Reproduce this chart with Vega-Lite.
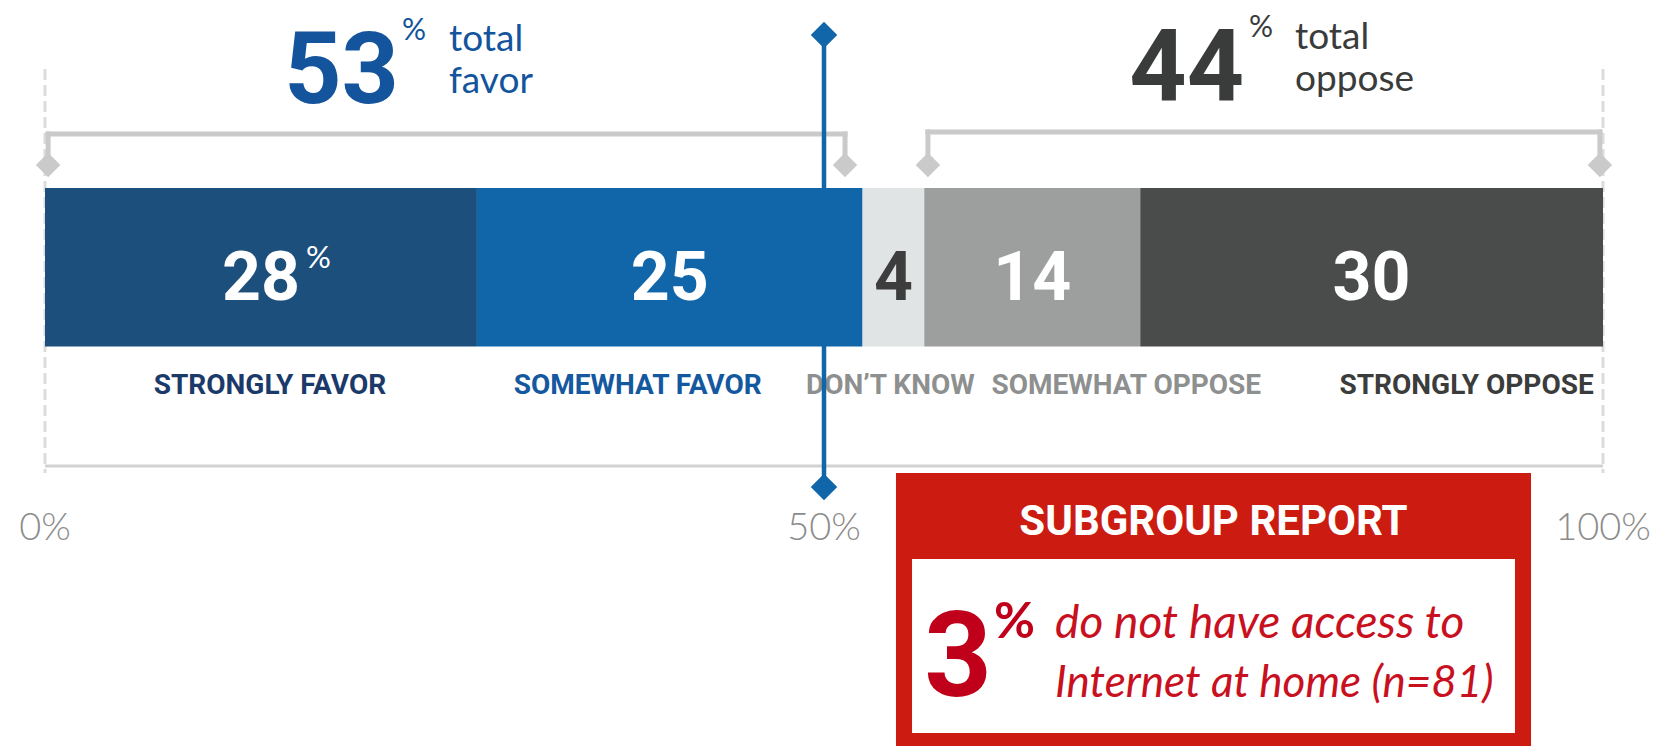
{
  "$schema": "https://vega.github.io/schema/vega-lite/v6.json",
  "width": 1667,
  "height": 746,
  "autosize": {"type": "fit", "contains": "padding"},
  "padding": 0,
  "background": "white",
  "config": {"view": {"stroke": null}, "axis": {"disable": true}},
  "datasets": {
    "responses": [
      {"response": "Strongly favor", "label": "STRONGLY FAVOR", "pct": 28, "order": 1},
      {"response": "Somewhat favor", "label": "SOMEWHAT FAVOR", "pct": 25, "order": 2},
      {"response": "Don't know", "label": "DON’T KNOW", "pct": 4, "order": 3},
      {"response": "Somewhat oppose", "label": "SOMEWHAT OPPOSE", "pct": 14, "order": 4},
      {"response": "Strongly oppose", "label": "STRONGLY OPPOSE", "pct": 30, "order": 5}
    ],
    "totals": [
      {"side": "favor", "total": 53, "line1": "total", "line2": "favor"},
      {"side": "oppose", "total": 44, "line1": "total", "line2": "oppose"}
    ],
    "ticks": [{"p": 0}, {"p": 0.5}, {"p": 1}],
    "subgroup": [
      {"title": "SUBGROUP REPORT", "pct": 3, "line1": "do not have access to", "line2": "Internet at home (n=81)"}
    ],
    "one": [{}]
  },
  "layer": [
    {
      "data": {"name": "ticks"},
      "transform": [{"filter": "datum.p !== 0.5"}],
      "mark": {"type": "rule", "color": "#dcdcdc", "strokeWidth": 3, "strokeDash": [11, 5]},
      "encoding": {
        "x": {"field": "p", "type": "quantitative", "scale": {"domain": [-0.028883, 1.041078], "nice": false, "zero": false}, "axis": null},
        "y": {"datum": 69, "type": "quantitative", "scale": {"domain": [0, 746], "reverse": true, "nice": false, "zero": false}, "axis": null},
        "y2": {"datum": 473}
      }
    },
    {
      "data": {"name": "one"},
      "mark": {"type": "rule", "color": "#d2d2d2", "strokeWidth": 3},
      "encoding": {
        "x": {"datum": 0, "type": "quantitative", "axis": null},
        "x2": {"datum": 1},
        "y": {"datum": 466, "type": "quantitative"}
      }
    },
    {
      "data": {"name": "ticks"},
      "mark": {"type": "text", "font": "Lato", "fontWeight": 300, "fontSize": 38, "baseline": "alphabetic", "align": "center", "color": "#8c8c8c"},
      "encoding": {
        "x": {"field": "p", "type": "quantitative", "axis": null},
        "y": {"datum": 540, "type": "quantitative"},
        "text": {"field": "p", "type": "quantitative", "format": ".0%"}
      }
    },
    {
      "data": {"name": "responses"},
      "transform": [
        {"stack": "pct", "groupby": [], "sort": [{"field": "order"}], "offset": "normalize", "as": ["x0", "x1"]}
      ],
      "mark": {"type": "bar"},
      "encoding": {
        "x": {"field": "x0", "type": "quantitative", "axis": null},
        "x2": {"field": "x1"},
        "y": {"datum": 188, "type": "quantitative"},
        "y2": {"datum": 346.6},
        "color": {"field": "response", "type": "nominal", "legend": null,
          "scale": {"domain": ["Strongly favor", "Somewhat favor", "Don't know", "Somewhat oppose", "Strongly oppose"],
                    "range": ["#1d4f7d", "#1066a8", "#e1e4e4", "#9d9e9e", "#4a4b4b"]}}
      }
    },
    {
      "data": {"name": "responses"},
      "transform": [
        {"stack": "pct", "groupby": [], "sort": [{"field": "order"}], "offset": "normalize", "as": ["x0", "x1"]},
        {"calculate": "(datum.x0 + datum.x1) / 2", "as": "mid"}
      ],
      "mark": {"type": "text", "font": "Roboto", "fontWeight": "bold", "fontSize": 68, "baseline": "alphabetic", "align": "center"},
      "encoding": {
        "x": {"field": "mid", "type": "quantitative", "axis": null},
        "y": {"datum": 300, "type": "quantitative"},
        "text": {"field": "pct", "type": "quantitative"},
        "color": {"condition": {"test": "datum.response === \"Don't know\"", "value": "#3d3d3d"}, "value": "#ffffff"}
      }
    },
    {
      "data": {"name": "responses"},
      "transform": [
        {"stack": "pct", "groupby": [], "sort": [{"field": "order"}], "offset": "normalize", "as": ["x0", "x1"]},
        {"calculate": "(datum.x0 + datum.x1) / 2", "as": "mid"},
        {"filter": "datum.order === 1"}
      ],
      "mark": {"type": "text", "text": "%", "font": "Lato", "fontSize": 31, "baseline": "alphabetic", "align": "left", "color": "#ffffff", "dx": 45},
      "encoding": {
        "x": {"field": "mid", "type": "quantitative", "axis": null},
        "y": {"datum": 268, "type": "quantitative"}
      }
    },
    {
      "data": {"name": "responses"},
      "transform": [
        {"stack": "pct", "groupby": [], "sort": [{"field": "order"}], "offset": "normalize", "as": ["x0", "x1"]},
        {"calculate": "(datum.x0 + datum.x1) / 2", "as": "mid"},
        {"filter": "datum.order === 1"}
      ],
      "mark": {"type": "text", "font": "Roboto", "fontWeight": "bold", "fontSize": 28, "baseline": "alphabetic", "align": "center", "color": "#1b3a6a", "dx": 9},
      "encoding": {"x": {"field": "mid", "type": "quantitative", "axis": null}, "y": {"datum": 394, "type": "quantitative"}, "text": {"field": "label"}}
    },
    {
      "data": {"name": "responses"},
      "transform": [
        {"stack": "pct", "groupby": [], "sort": [{"field": "order"}], "offset": "normalize", "as": ["x0", "x1"]},
        {"calculate": "(datum.x0 + datum.x1) / 2", "as": "mid"},
        {"filter": "datum.order === 2"}
      ],
      "mark": {"type": "text", "font": "Roboto", "fontWeight": "bold", "fontSize": 28, "baseline": "alphabetic", "align": "center", "color": "#1458a0", "dx": -32},
      "encoding": {"x": {"field": "mid", "type": "quantitative", "axis": null}, "y": {"datum": 394, "type": "quantitative"}, "text": {"field": "label"}}
    },
    {
      "data": {"name": "responses"},
      "transform": [
        {"stack": "pct", "groupby": [], "sort": [{"field": "order"}], "offset": "normalize", "as": ["x0", "x1"]},
        {"calculate": "(datum.x0 + datum.x1) / 2", "as": "mid"},
        {"filter": "datum.order === 3"}
      ],
      "mark": {"type": "text", "font": "Roboto", "fontWeight": "bold", "fontSize": 28, "baseline": "alphabetic", "align": "center", "color": "#8e9090", "dx": -3},
      "encoding": {"x": {"field": "mid", "type": "quantitative", "axis": null}, "y": {"datum": 394, "type": "quantitative"}, "text": {"field": "label"}}
    },
    {
      "data": {"name": "responses"},
      "transform": [
        {"stack": "pct", "groupby": [], "sort": [{"field": "order"}], "offset": "normalize", "as": ["x0", "x1"]},
        {"calculate": "(datum.x0 + datum.x1) / 2", "as": "mid"},
        {"filter": "datum.order === 4"}
      ],
      "mark": {"type": "text", "font": "Roboto", "fontWeight": "bold", "fontSize": 28, "baseline": "alphabetic", "align": "center", "color": "#8e9090", "dx": 94},
      "encoding": {"x": {"field": "mid", "type": "quantitative", "axis": null}, "y": {"datum": 394, "type": "quantitative"}, "text": {"field": "label"}}
    },
    {
      "data": {"name": "responses"},
      "transform": [
        {"stack": "pct", "groupby": [], "sort": [{"field": "order"}], "offset": "normalize", "as": ["x0", "x1"]},
        {"calculate": "(datum.x0 + datum.x1) / 2", "as": "mid"},
        {"filter": "datum.order === 5"}
      ],
      "mark": {"type": "text", "font": "Roboto", "fontWeight": "bold", "fontSize": 28, "baseline": "alphabetic", "align": "center", "color": "#3b3c3c", "dx": 95},
      "encoding": {"x": {"field": "mid", "type": "quantitative", "axis": null}, "y": {"datum": 394, "type": "quantitative"}, "text": {"field": "label"}}
    },
    {
      "data": {"name": "one"},
      "mark": {"type": "rule", "color": "#cacaca", "strokeWidth": 5, "strokeCap": "square"},
      "encoding": {"x": {"datum": 0.002, "type": "quantitative", "axis": null}, "x2": {"datum": 0.5135}, "y": {"datum": 134, "type": "quantitative"}}
    },
    {
      "data": {"name": "one"},
      "mark": {"type": "rule", "color": "#cacaca", "strokeWidth": 5, "strokeCap": "square"},
      "encoding": {"x": {"datum": 0.002, "type": "quantitative", "axis": null}, "y": {"datum": 134, "type": "quantitative"}, "y2": {"datum": 165}}
    },
    {
      "data": {"name": "one"},
      "mark": {"type": "rule", "color": "#cacaca", "strokeWidth": 5, "strokeCap": "square"},
      "encoding": {"x": {"datum": 0.5135, "type": "quantitative", "axis": null}, "y": {"datum": 134, "type": "quantitative"}, "y2": {"datum": 165}}
    },
    {
      "data": {"name": "one"},
      "mark": {"type": "rule", "color": "#cacaca", "strokeWidth": 5, "strokeCap": "square"},
      "encoding": {"x": {"datum": 0.5667, "type": "quantitative", "axis": null}, "x2": {"datum": 0.998}, "y": {"datum": 132, "type": "quantitative"}}
    },
    {
      "data": {"name": "one"},
      "mark": {"type": "rule", "color": "#cacaca", "strokeWidth": 5, "strokeCap": "square"},
      "encoding": {"x": {"datum": 0.5667, "type": "quantitative", "axis": null}, "y": {"datum": 132, "type": "quantitative"}, "y2": {"datum": 165}}
    },
    {
      "data": {"name": "one"},
      "mark": {"type": "rule", "color": "#cacaca", "strokeWidth": 5, "strokeCap": "square"},
      "encoding": {"x": {"datum": 0.998, "type": "quantitative", "axis": null}, "y": {"datum": 132, "type": "quantitative"}, "y2": {"datum": 165}}
    },
    {
      "data": {"name": "one"},
      "mark": {"type": "point", "shape": "diamond", "filled": true, "color": "#cacaca", "opacity": 1, "size": 600},
      "encoding": {"x": {"datum": 0.002, "type": "quantitative", "axis": null}, "y": {"datum": 165, "type": "quantitative"}}
    },
    {
      "data": {"name": "one"},
      "mark": {"type": "point", "shape": "diamond", "filled": true, "color": "#cacaca", "opacity": 1, "size": 600},
      "encoding": {"x": {"datum": 0.5135, "type": "quantitative", "axis": null}, "y": {"datum": 165, "type": "quantitative"}}
    },
    {
      "data": {"name": "one"},
      "mark": {"type": "point", "shape": "diamond", "filled": true, "color": "#cacaca", "opacity": 1, "size": 600},
      "encoding": {"x": {"datum": 0.5667, "type": "quantitative", "axis": null}, "y": {"datum": 165, "type": "quantitative"}}
    },
    {
      "data": {"name": "one"},
      "mark": {"type": "point", "shape": "diamond", "filled": true, "color": "#cacaca", "opacity": 1, "size": 600},
      "encoding": {"x": {"datum": 0.998, "type": "quantitative", "axis": null}, "y": {"datum": 165, "type": "quantitative"}}
    },
    {
      "data": {"name": "ticks"},
      "transform": [{"filter": "datum.p === 0.5"}],
      "mark": {"type": "rule", "color": "#1066a8", "strokeWidth": 4.5},
      "encoding": {"x": {"field": "p", "type": "quantitative", "axis": null}, "y": {"datum": 35, "type": "quantitative"}, "y2": {"datum": 487}}
    },
    {
      "data": {"name": "ticks"},
      "transform": [{"filter": "datum.p === 0.5"}],
      "mark": {"type": "point", "shape": "diamond", "filled": true, "color": "#1066a8", "opacity": 1, "size": 700},
      "encoding": {"x": {"field": "p", "type": "quantitative", "axis": null}, "y": {"datum": 35, "type": "quantitative"}}
    },
    {
      "data": {"name": "ticks"},
      "transform": [{"filter": "datum.p === 0.5"}],
      "mark": {"type": "point", "shape": "diamond", "filled": true, "color": "#1066a8", "opacity": 1, "size": 700},
      "encoding": {"x": {"field": "p", "type": "quantitative", "axis": null}, "y": {"datum": 487, "type": "quantitative"}}
    },
    {
      "data": {"name": "totals"},
      "transform": [{"filter": "datum.side === 'favor'"}],
      "mark": {"type": "text", "font": "Roboto", "fontWeight": "bold", "fontSize": 100, "baseline": "alphabetic", "align": "right", "color": "#13549c"},
      "encoding": {"x": {"datum": 0.2272, "type": "quantitative", "axis": null}, "y": {"datum": 103, "type": "quantitative"}, "text": {"field": "total"}}
    },
    {
      "data": {"name": "totals"},
      "transform": [{"filter": "datum.side === 'favor'"}],
      "mark": {"type": "text", "text": "%", "font": "Lato", "fontSize": 30, "baseline": "alphabetic", "align": "left", "color": "#13549c"},
      "encoding": {"x": {"datum": 0.2291, "type": "quantitative", "axis": null}, "y": {"datum": 40, "type": "quantitative"}}
    },
    {
      "data": {"name": "totals"},
      "transform": [{"filter": "datum.side === 'favor'"}],
      "mark": {"type": "text", "font": "Lato", "fontSize": 37, "baseline": "alphabetic", "align": "left", "color": "#13549c"},
      "encoding": {"x": {"datum": 0.2593, "type": "quantitative", "axis": null}, "y": {"datum": 51, "type": "quantitative"}, "text": {"field": "line1"}}
    },
    {
      "data": {"name": "totals"},
      "transform": [{"filter": "datum.side === 'favor'"}],
      "mark": {"type": "text", "font": "Lato", "fontSize": 37, "baseline": "alphabetic", "align": "left", "color": "#13549c"},
      "encoding": {"x": {"datum": 0.2593, "type": "quantitative", "axis": null}, "y": {"datum": 93, "type": "quantitative"}, "text": {"field": "line2"}}
    },
    {
      "data": {"name": "totals"},
      "transform": [{"filter": "datum.side === 'oppose'"}],
      "mark": {"type": "text", "font": "Roboto", "fontWeight": "bold", "fontSize": 100, "baseline": "alphabetic", "align": "right", "color": "#3a3b3b"},
      "encoding": {"x": {"datum": 0.7696, "type": "quantitative", "axis": null}, "y": {"datum": 101, "type": "quantitative"}, "text": {"field": "total"}}
    },
    {
      "data": {"name": "totals"},
      "transform": [{"filter": "datum.side === 'oppose'"}],
      "mark": {"type": "text", "text": "%", "font": "Lato", "fontSize": 30, "baseline": "alphabetic", "align": "left", "color": "#3a3b3b"},
      "encoding": {"x": {"datum": 0.7728, "type": "quantitative", "axis": null}, "y": {"datum": 37, "type": "quantitative"}}
    },
    {
      "data": {"name": "totals"},
      "transform": [{"filter": "datum.side === 'oppose'"}],
      "mark": {"type": "text", "font": "Lato", "fontSize": 37, "baseline": "alphabetic", "align": "left", "color": "#3a3b3b"},
      "encoding": {"x": {"datum": 0.8023, "type": "quantitative", "axis": null}, "y": {"datum": 49, "type": "quantitative"}, "text": {"field": "line1"}}
    },
    {
      "data": {"name": "totals"},
      "transform": [{"filter": "datum.side === 'oppose'"}],
      "mark": {"type": "text", "font": "Lato", "fontSize": 37, "baseline": "alphabetic", "align": "left", "color": "#3a3b3b"},
      "encoding": {"x": {"datum": 0.8023, "type": "quantitative", "axis": null}, "y": {"datum": 91, "type": "quantitative"}, "text": {"field": "line2"}}
    },
    {
      "data": {"name": "subgroup"},
      "mark": {"type": "rect", "color": "#cc1c12"},
      "encoding": {"x": {"datum": 0.5462, "type": "quantitative", "axis": null}, "x2": {"datum": 0.9538}, "y": {"datum": 473, "type": "quantitative"}, "y2": {"datum": 746}}
    },
    {
      "data": {"name": "subgroup"},
      "mark": {"type": "rect", "color": "#ffffff"},
      "encoding": {"x": {"datum": 0.5565, "type": "quantitative", "axis": null}, "x2": {"datum": 0.9435}, "y": {"datum": 559, "type": "quantitative"}, "y2": {"datum": 733}}
    },
    {
      "data": {"name": "subgroup"},
      "mark": {"type": "text", "font": "Roboto", "fontWeight": "bold", "fontSize": 42, "baseline": "alphabetic", "align": "center", "color": "#ffffff"},
      "encoding": {"x": {"datum": 0.75, "type": "quantitative", "axis": null}, "y": {"datum": 535, "type": "quantitative"}, "text": {"field": "title"}}
    },
    {
      "data": {"name": "subgroup"},
      "mark": {"type": "text", "font": "Roboto", "fontWeight": "bold", "fontSize": 118, "baseline": "alphabetic", "align": "right", "color": "#c0001a"},
      "encoding": {"x": {"datum": 0.6078, "type": "quantitative", "axis": null}, "y": {"datum": 696, "type": "quantitative"}, "text": {"field": "pct"}}
    },
    {
      "data": {"name": "subgroup"},
      "mark": {"type": "text", "text": "%", "font": "Lato", "fontWeight": "bold", "fontSize": 50, "baseline": "alphabetic", "align": "left", "color": "#c0001a"},
      "encoding": {"x": {"datum": 0.6091, "type": "quantitative", "axis": null}, "y": {"datum": 638, "type": "quantitative"}}
    },
    {
      "data": {"name": "subgroup"},
      "mark": {"type": "text", "font": "Lato", "fontStyle": "italic", "fontSize": 46, "baseline": "alphabetic", "align": "left", "color": "#c8101e"},
      "encoding": {"x": {"datum": 0.6483, "type": "quantitative", "axis": null}, "y": {"datum": 638, "type": "quantitative"}, "text": {"field": "line1"}}
    },
    {
      "data": {"name": "subgroup"},
      "mark": {"type": "text", "font": "Lato", "fontStyle": "italic", "fontSize": 44, "baseline": "alphabetic", "align": "left", "color": "#c8101e"},
      "encoding": {"x": {"datum": 0.6483, "type": "quantitative", "axis": null}, "y": {"datum": 697, "type": "quantitative"}, "text": {"field": "line2"}}
    }
  ]
}
